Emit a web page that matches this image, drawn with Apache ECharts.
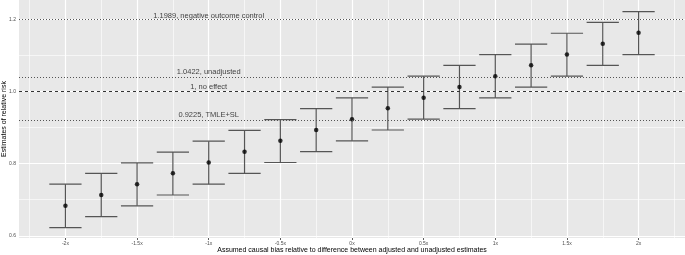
<!DOCTYPE html>
<html>
<head>
<meta charset="utf-8" />
<title>Causal bias sensitivity</title>
<script src="https://cdn.jsdelivr.net/npm/echarts@6/dist/echarts.min.js"></script>
<style>
  html, body { margin: 0; padding: 0; background: #fff; }
  #chart { width: 685px; height: 255px; }
</style>
</head>
<body>
<div id="chart"></div>
<script>
// bias multiples on the x axis
var bias = [-2, -1.75, -1.5, -1.25, -1, -0.75, -0.5, -0.25, 0, 0.25, 0.5, 0.75, 1, 1.25, 1.5, 1.75, 2];
// point estimates and interval ends
var estimate = [0.683, 0.713, 0.743, 0.773, 0.803, 0.833, 0.863, 0.893, 0.923, 0.953, 0.982, 1.012, 1.042, 1.072, 1.102, 1.132, 1.162];
var lower = [0.623, 0.653, 0.683, 0.713, 0.743, 0.773, 0.803, 0.833, 0.863, 0.893, 0.923, 0.952, 0.982, 1.012, 1.042, 1.072, 1.102];
var upper = [0.743, 0.773, 0.802, 0.832, 0.862, 0.892, 0.922, 0.952, 0.982, 1.012, 1.042, 1.072, 1.102, 1.131, 1.161, 1.191, 1.221];

// reference lines
var refValues = [1.1989, 1.0422, 1, 0.9225];
var refLabels = ['1.1989, negative outcome control', '1.0422, unadjusted', '1, no effect', '0.9225, TMLE+SL'];
var refTypes = ['dotted', 'dotted', 'dashed', 'dotted'];
var labelAt = -1;

var xTicks = [-2, -1.5, -1, -0.5, 0, 0.5, 1, 1.5, 2];
var xTickLabels = ['-2x', '-1.5x', '-1x', '-0.5x', '0x', '0.5x', '1x', '1.5x', '2x'];
var xMinor = [-2.25, -1.75, -1.25, -0.75, -0.25, 0.25, 0.75, 1.25, 1.75, 2.25];
var yTicks = [0.6, 0.8, 1.0, 1.2];
var yMinor = [0.7, 0.9, 1.1];

var capWidth = 0.225;

var chart = echarts.init(document.getElementById('chart'), null, { renderer: 'canvas' });

var barData = bias.map(function (b, i) { return [b, lower[i], upper[i]]; });
var pointData = bias.map(function (b, i) { return [b, estimate[i]]; });

// grid lines drawn as markLines so they sit on the exact tick values
var gridLines = [];
xMinor.forEach(function (v) { gridLines.push({ xAxis: v, lineStyle: { width: 0.6 } }); });
yMinor.forEach(function (v) { gridLines.push({ yAxis: v, lineStyle: { width: 0.6 } }); });
xTicks.forEach(function (v) { gridLines.push({ xAxis: v, lineStyle: { width: 1.2 } }); });
yTicks.forEach(function (v) { gridLines.push({ yAxis: v, lineStyle: { width: 1.2 } }); });

var refLines = refValues.map(function (v, i) {
  return { yAxis: v, lineStyle: { type: refTypes[i] === 'dashed' ? [3, 3] : [1, 2], color: refTypes[i] === 'dashed' ? '#333' : '#555', width: 1 } };
});

var refLabelData = refValues.map(function (v, i) {
  return { value: [labelAt, v], label: { formatter: refLabels[i] } };
});

var fontFam = '"Liberation Sans", Arial, sans-serif';

var option = {
  animation: false,
  grid: {
    left: 19, right: 0, top: 0, bottom: 17,
    containLabel: false, outerBoundsMode: 'none',
    show: true, backgroundColor: '#e8e8e8', borderWidth: 0
  },
  xAxis: {
    type: 'value', min: -2.324, max: 2.324,
    name: 'Assumed causal bias relative to difference between adjusted and unadjusted estimates',
    nameLocation: 'middle', nameGap: 9, nameMoveOverlap: false,
    nameTextStyle: { fontFamily: fontFam, fontSize: 7, color: '#000' },
    axisLine: { show: false },
    axisTick: { show: true, length: 2, lineStyle: { color: '#333', width: 0.8 }, customValues: xTicks },
    axisLabel: {
      customValues: xTicks, margin: 3, fontFamily: fontFam, fontSize: 5, color: '#4d4d4d',
      formatter: function (v) { var k = xTicks.indexOf(v); return k >= 0 ? xTickLabels[k] : ''; }
    },
    splitLine: { show: false }
  },
  yAxis: {
    type: 'value', min: 0.594, max: 1.253,
    name: 'Estimates of relative risk',
    nameLocation: 'middle', nameGap: 11, nameRotate: 90, nameMoveOverlap: false,
    nameTextStyle: { fontFamily: fontFam, fontSize: 7, color: '#000' },
    axisLine: { show: false },
    axisTick: { show: true, length: 2, lineStyle: { color: '#333', width: 0.8 }, customValues: yTicks },
    axisLabel: {
      customValues: yTicks, margin: 3, fontFamily: fontFam, fontSize: 5, color: '#4d4d4d',
      formatter: function (v) { return v.toFixed(1); }
    },
    splitLine: { show: false }
  },
  series: [
    {
      type: 'line', data: [], silent: true,
      markLine: { silent: true, symbol: 'none', label: { show: false }, lineStyle: { color: '#fff', type: 'solid' }, data: gridLines, z: 1 }
    },
    {
      type: 'line', data: [], silent: true,
      markLine: { silent: true, symbol: 'none', label: { show: false }, data: refLines }
    },
    {
      type: 'custom',
      data: barData,
      renderItem: function (params, api) {
        var x = api.value(0);
        var lo = api.coord([x, api.value(1)]);
        var hi = api.coord([x, api.value(2)]);
        var halfW = api.size([capWidth, 0])[0] / 2;
        var style = { stroke: '#555', lineWidth: 1.2 };
        return {
          type: 'group',
          children: [
            { type: 'line', shape: { x1: lo[0], y1: lo[1], x2: hi[0], y2: hi[1] }, style: style },
            { type: 'line', shape: { x1: lo[0] - halfW, y1: lo[1], x2: lo[0] + halfW, y2: lo[1] }, style: style },
            { type: 'line', shape: { x1: hi[0] - halfW, y1: hi[1], x2: hi[0] + halfW, y2: hi[1] }, style: style }
          ]
        };
      }
    },
    {
      type: 'scatter', data: pointData, symbol: 'circle', symbolSize: 4.5,
      itemStyle: { color: '#000' }
    },
    {
      type: 'scatter', data: refLabelData, symbolSize: 0, silent: true,
      label: { show: true, position: 'top', distance: 0, fontFamily: fontFam, fontSize: 7.5, color: '#111' }
    }
  ]
};

chart.setOption(option);
</script>
</body>
</html>
